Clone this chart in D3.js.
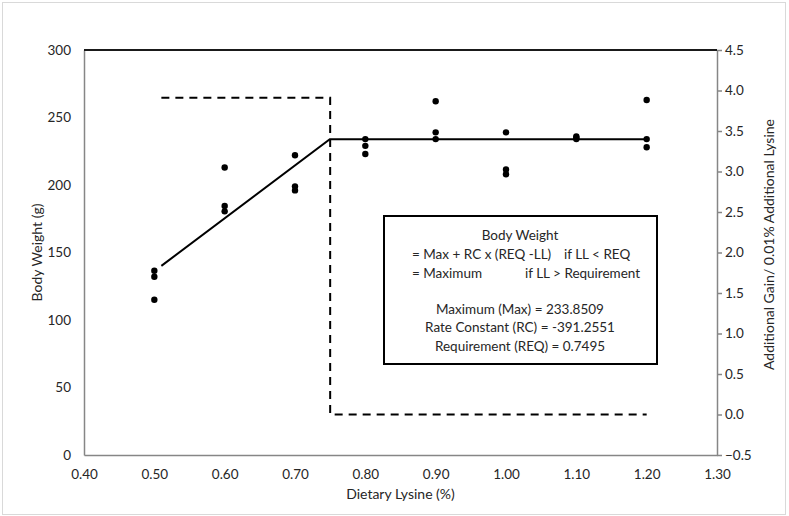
<!DOCTYPE html>
<html>
<head>
<meta charset="utf-8">
<script src="https://cdn.jsdelivr.net/npm/d3@7"></script>
<style>
  body { margin: 0; background: #fff; }
  svg text { font-family: Lato, "Open Sans", sans-serif; fill: #262626; }
  .axis path, .axis line { stroke: #868686; stroke-width: 1.5; }
  .axis text { font-size: 13.5px; }
</style>
</head>
<body>
<div id="chart"></div>
<script>
// observed body weights, one entry per pen
var pointLysine = [0.5, 0.5, 0.5, 0.6, 0.6, 0.6, 0.7, 0.7, 0.7, 0.8, 0.8, 0.8,
                   0.9, 0.9, 0.9, 1.0, 1.0, 1.0, 1.1, 1.1, 1.1, 1.2, 1.2, 1.2];
var pointWeight = [136.5, 132, 115, 213, 184.5, 180.5, 222, 199, 196, 234, 229, 223,
                   262, 239, 234, 239, 211.5, 208, 236, 235, 234, 263, 234, 228];

// broken-line fit
var fitLysine = [0.51, 0.7495, 1.2];
var fitWeight = [140.1, 233.85, 233.85];

// additional gain per 0.01% lysine (right axis)
var gainLysine = [0.51, 0.75, 0.75, 1.2];
var gainValue = [3.91, 3.91, 0, 0];

var xTicks = [0.4, 0.5, 0.6, 0.7, 0.8, 0.9, 1.0, 1.1, 1.2, 1.3];
var yTicks = [0, 50, 100, 150, 200, 250, 300];
var y2Ticks = [-0.5, 0, 0.5, 1.0, 1.5, 2.0, 2.5, 3.0, 3.5, 4.0, 4.5];

var boxLines = ["Maximum (Max) = 233.8509", "Rate Constant (RC) = -391.2551", "Requirement (REQ) = 0.7495"];

var W = 789, H = 516;
var margin = {top: 50, right: 72, bottom: 61, left: 84};
var width = W - margin.left - margin.right;
var height = H - margin.top - margin.bottom;

var svg = d3.select('#chart').append('svg')
    .attr('width', W)
    .attr('height', H);

// chart border
svg.append('rect')
    .attr('x', 2.5).attr('y', 2.5)
    .attr('width', W - 6).attr('height', H - 4)
    .attr('fill', 'none')
    .attr('stroke', '#d9d9d9');

var g = svg.append('g')
    .attr('transform', 'translate(' + margin.left + ',' + margin.top + ')');

var x = d3.scaleLinear().domain([0.4, 1.3]).range([0, width]);
var y = d3.scaleLinear().domain([0, 300]).range([height, 0]);
var y2 = d3.scaleLinear().domain([-0.5, 4.5]).range([height, 0]);

g.append('g')
    .attr('class', 'x axis')
    .attr('transform', 'translate(0,' + height + ')')
    .call(d3.axisBottom(x).tickValues(xTicks).tickSize(0).tickPadding(14).tickFormat(d3.format('.2f')));

g.append('g')
    .attr('class', 'y axis')
    .call(d3.axisLeft(y).tickValues(yTicks).tickSize(0).tickPadding(13));

g.append('g')
    .attr('class', 'y2 axis')
    .attr('transform', 'translate(' + width + ',0)')
    .call(d3.axisRight(y2).tickValues(y2Ticks).tickSizeInner(5).tickSizeOuter(0).tickPadding(3).tickFormat(d3.format('.1f')));

// top edge of plot area
g.append('line')
    .attr('x1', 0).attr('x2', width)
    .attr('y1', 0).attr('y2', 0)
    .attr('stroke', '#1a1a1a')
    .attr('stroke-width', 2);

// axis titles
svg.append('text')
    .attr('transform', 'translate(37,' + (margin.top + height / 2) + ') rotate(-90)')
    .attr('text-anchor', 'middle')
    .attr('dy', '0.35em')
    .style('font-size', '14px')
    .text('Body Weight (g)');

svg.append('text')
    .attr('transform', 'translate(769,' + (margin.top + height / 2 - 8) + ') rotate(-90)')
    .attr('text-anchor', 'middle')
    .attr('dy', '0.35em')
    .style('font-size', '14px')
    .text('Additional Gain/ 0.01% Additional Lysine');

svg.append('text')
    .attr('x', margin.left + width / 2)
    .attr('y', 494)
    .attr('text-anchor', 'middle')
    .attr('dy', '0.35em')
    .style('font-size', '14px')
    .text('Dietary Lysine (%)');

// dashed gain line
var gainLine = d3.line()
    .x(function(d, i) { return x(gainLysine[i]); })
    .y(function(d) { return y2(d); });
g.append('path')
    .datum(gainValue)
    .attr('d', gainLine)
    .attr('fill', 'none')
    .attr('stroke', '#000')
    .attr('stroke-width', 2)
    .attr('stroke-dasharray', '8,6');

// fitted line
var fitLine = d3.line()
    .x(function(d, i) { return x(fitLysine[i]); })
    .y(function(d) { return y(d); });
g.append('path')
    .datum(fitWeight)
    .attr('d', fitLine)
    .attr('fill', 'none')
    .attr('stroke', '#000')
    .attr('stroke-width', 2);

// observations
g.selectAll('.pt')
    .data(pointWeight)
    .enter().append('circle')
    .attr('class', 'pt')
    .attr('cx', function(d, i) { return x(pointLysine[i]); })
    .attr('cy', function(d) { return y(d); })
    .attr('r', 3.2)
    .attr('fill', '#000');

// equation box
var box = svg.append('g').attr('transform', 'translate(384,216)');
box.append('rect')
    .attr('width', 273).attr('height', 148)
    .attr('fill', '#fff')
    .attr('stroke', '#000')
    .attr('stroke-width', 2);

function boxText(tx, ty, s, anchor) {
    box.append('text')
        .attr('x', tx).attr('y', ty)
        .attr('dy', '0.35em')
        .attr('text-anchor', anchor || 'middle')
        .style('font-size', '13.5px')
        .text(s);
}
boxText(136, 19, 'Body Weight');
boxText(28, 38, '= Max + RC x (REQ -LL)', 'start');
boxText(180, 38, 'if LL < REQ', 'start');
boxText(28, 57, '= Maximum', 'start');
boxText(141, 57, 'if LL > Requirement', 'start');
boxLines.forEach(function(s, i) {
    boxText(136, 93 + i * 18.5, s);
});
</script>
</body>
</html>
